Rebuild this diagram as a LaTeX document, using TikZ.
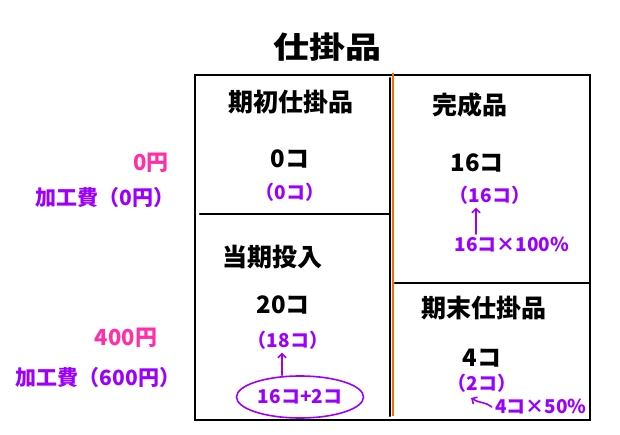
\documentclass[tikz,border=0pt]{standalone}
\usepackage{fontspec}
\usepackage{xcolor}
\usepackage{tikz}
\usetikzlibrary{arrows.meta,shapes.geometric}
\newfontfamily\jpfont{Noto Sans CJK JP}
\definecolor{splitorange}{HTML}{FF6A00}
\definecolor{notepurple}{HTML}{9B00FF}
\definecolor{yenpink}{HTML}{FF2FA8}

\begin{document}
\begin{tikzpicture}[x=1pt, y=-1pt, font=\jpfont\bfseries,
  boxline/.style={line width=2.2pt, line cap=round},
  head/.style={font=\jpfont\bfseries\fontsize{25}{25}\selectfont},
  qty/.style={font=\jpfont\bfseries\fontsize{24}{24}\selectfont},
  note/.style={text=notepurple, font=\jpfont\bfseries\fontsize{19}{19}\selectfont},
  yen/.style={text=yenpink, font=\jpfont\bfseries\fontsize{22}{22}\selectfont},
  cost/.style={text=notepurple, font=\jpfont\bfseries\fontsize{21}{21}\selectfont},
  arr/.style={notepurple, line width=1.6pt, line cap=round, -{Straight Barb[length=4pt,width=8pt]}}]
  \useasboundingbox (0,0) rectangle (620,435);
  % frame and dividers
  \draw[boxline] (195,75) rectangle (590,420);
  \draw[boxline] (390,78) -- (390,416);
  \draw[splitorange, line width=2.4pt] (393,73) -- (393,416);
  \draw[boxline] (200,214) -- (390,214);
  \draw[boxline] (395,283) -- (590,283);
  % title
  \node[font=\jpfont\bfseries\fontsize{30}{30}\selectfont, xscale=1.2, transform shape] (title) at (327,47) {仕掛品};
  % left column
  \node[head] (begin) at (291,102) {期初仕掛品};
  \node[qty] (b0) at (290,159) {0コ};
  \node[note] (b0p) at (290,192) {（0コ）};
  \node[head] (input) at (272,257) {当期投入};
  \node[qty] (i20) at (283,305) {20コ};
  \node[note] (i18) at (288,340) {（18コ）};
  \node[note, draw=notepurple, line width=1.6pt, ellipse, minimum width=127pt,
        minimum height=42pt, inner sep=0pt] (sum) at (300,397) {16コ+2コ};
  \draw[arr] (sum.north -| 282,0) -- (i18.south -| 282,0);
  % right column
  \node[head] (done) at (470,105) {完成品};
  \node[qty] (d16) at (477,163) {16コ};
  \node[note] (d16p) at (490,195) {（16コ）};
  \node[note] (d100) at (512,245) {16コ×100\%};
  \draw[arr] (d100.north -| 476,0) -- (d16p.south -| 476,0);
  \node[head] (endwip) at (484,308) {期末仕掛品};
  \node[qty] (e4) at (482,358) {4コ};
  \node[note] (e2p) at (482,383) {（2コ）};
  \node[note] (e50) at (541,407) {4コ×50\%};
  \coordinate (hook) at (471,398);
  \draw[arr] (e50.west) .. controls +(-8,-6) and +(10,6) .. (hook);
  % costs on the left
  \node[yen] (y0) at (151,163) {0円};
  \node[cost] (c0) at (105,198) {加工費（0円）};
  \node[yen] (y400) at (126,338) {400円};
  \node[cost] (c600) at (98,378) {加工費（600円）};
\end{tikzpicture}
\end{document}
